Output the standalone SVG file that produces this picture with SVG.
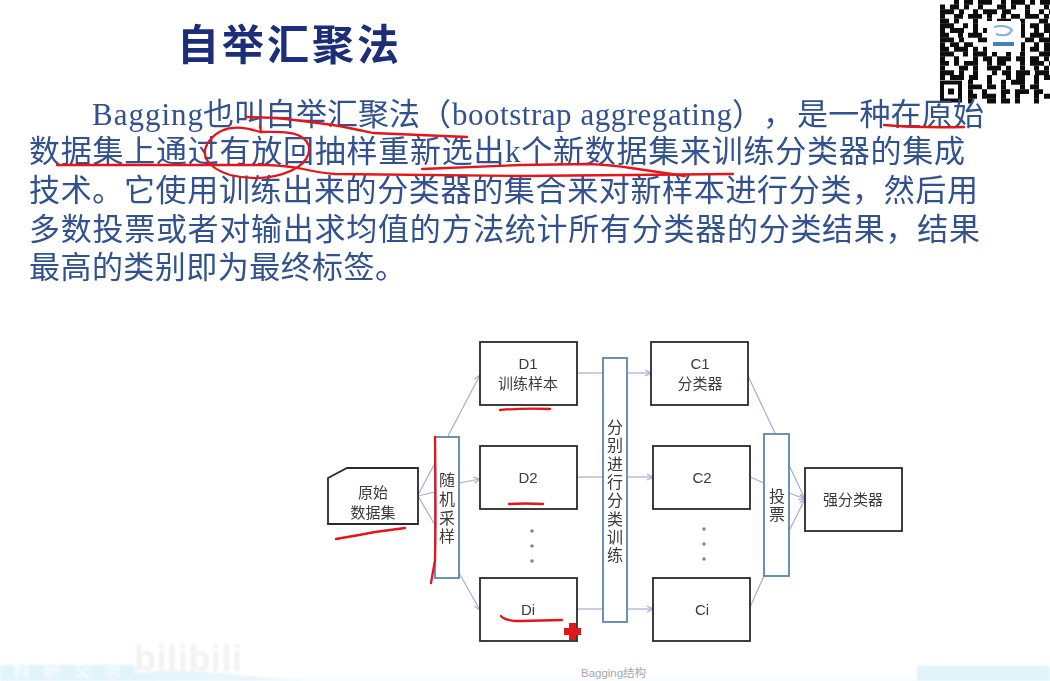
<svg xmlns="http://www.w3.org/2000/svg" width="1050" height="681" viewBox="0 0 1050 681">
<defs>
<filter id="soft" x="-5%" y="-5%" width="110%" height="110%"><feGaussianBlur stdDeviation="0.55"/></filter>
<filter id="soft2" x="-20%" y="-20%" width="140%" height="140%"><feGaussianBlur stdDeviation="1"/></filter>
<marker id="arr" viewBox="0 0 8 8" refX="7" refY="4" markerWidth="8" markerHeight="8" orient="auto" markerUnits="userSpaceOnUse"><path d="M1 1L7 4L1 7" fill="none" stroke="#a3aed2" stroke-width="1.2"/></marker>
<linearGradient id="bandL" x1="0" x2="1" y1="0" y2="0"><stop offset="0" stop-color="#dff4fc"/><stop offset="1" stop-color="#f4fbfe"/></linearGradient>
</defs>
<style>
text{font-family:"Liberation Serif","Noto Sans CJK SC",serif}
.body{font-size:31px;fill:#30518f}
.title{font-family:"Noto Sans CJK SC",sans-serif;font-size:42px;font-weight:700;fill:#1b2f78}
.lbl{font-family:"Liberation Sans","Noto Sans CJK SC",sans-serif;font-size:15px;fill:#3a3a3a;text-anchor:middle}
.bar-t{font-family:"Noto Sans CJK SC",sans-serif;font-size:16px;fill:#3a3a3a;writing-mode:vertical-rl}
.box{fill:#fff;stroke:#2a2a2a;stroke-width:1.8}
.bar{fill:#fff;stroke:#5f84ab;stroke-width:1.8}
.conn{fill:none;stroke:#a3aed2;stroke-width:1.2}
.red{fill:none;stroke:#e3141c;stroke-width:2.3;stroke-linecap:round;stroke-linejoin:round}
.qr{fill:none;stroke:#111;stroke-width:4.9}
.dot{fill:#888}
</style>
<rect width="1050" height="681" fill="#fff"/>
<g id="bottom-band" filter="url(#soft2)">
<path d="M0 665H135V681H0z" fill="#e0f4fc"/>
<path d="M135 673Q190 668 240 675Q300 681 400 681H135z" fill="url(#bandL)"/>
<path d="M917 666H1050V681H917z" fill="#e0f4fc"/>
<path d="M300 679H917V681H300z" fill="#f2fafd"/>
<text x="13" y="676" font-size="17" fill="#fff" textLength="108" style="font-family:'Noto Sans CJK SC',sans-serif">科研交流</text>
<text x="134" y="671" font-size="36" fill="#f2f2f2" textLength="108" style="font-family:'Liberation Sans',sans-serif;font-weight:700">bilibili</text>
</g>
<g id="qr-code" filter="url(#soft)">
<g class="qr">
<path stroke-dasharray="0 14 5 5 9 5 14 9 5 5 14 5 5 5 14" d="M940 2.3H1050"/>
<path stroke-dasharray="5 5 9 5 5 9 5 14 9 5 5 9 5 14" d="M940 7H1050"/>
<path stroke-dasharray="14 5 5 9 5 5 14 5 9 14 5 9 5 5" d="M940 11.7H1050"/>
<path stroke-dasharray="5 9 9 5 14 5 5 9 5 5 9 5 14 5" d="M940 16.4H1050"/>
<path stroke-dasharray="9 5 5 14 5 9 5 5 14 9 5 14" d="M940 21.1H1050"/>
<path stroke-dasharray="14 9 5 5 5 9 9 5 5 14 5 5 9 5" d="M940 25.8H1050"/>
<path stroke-dasharray="5 5 14 9 5 5 9 14 5 9 5 9" d="M940 30.5H1050"/>
<path stroke-dasharray="9 9 5 5 14 5 5 9 14 5 5 5 14 5" d="M940 35.2H1050"/>
<path stroke-dasharray="14 5 5 14 9 5 5 5 9 14 9 5" d="M940 39.9H1050"/>
<path stroke-dasharray="5 5 9 5 9 14 5 9 5 5 14 9" d="M940 44.6H1050"/>
<path stroke-dasharray="9 5 14 5 5 5 9 9 5 14 5 5 9 5" d="M940 49.3H1050"/>
<path stroke-dasharray="14 9 5 5 14 5 5 9 5 9 5 14" d="M940 54H1050"/>
<path stroke-dasharray="5 9 5 14 5 5 9 5 14 5 9 5 9 5" d="M940 58.7H1050"/>
<path stroke-dasharray="9 5 5 5 14 9 5 5 9 14 5 5 14 5" d="M940 63.4H1050"/>
<path stroke-dasharray="5 14 9 5 5 9 14 5 5 9 5 9 5 5" d="M940 68.1H1050"/>
<path stroke-dasharray="14 5 5 9 5 14 5 5 9 5 14 5" d="M940 72.8H1050"/>
<path stroke-dasharray="5 5 14 5 9 9 5 14 5 5 9 9" d="M940 77.5H1050"/>
<path stroke-dasharray="0 28 5 14 5 9 5 5 14 9 5 14" d="M940 82.2H1050"/>
<path stroke-dasharray="0 28 14 5 9 5 5 14 5 5 9 5" d="M940 86.9H1050"/>
<path stroke-dasharray="0 28 5 9 5 14 9 5 14 5 9 5" d="M940 91.6H1050"/>
<path stroke-dasharray="0 28 9 5 14 5 5 9 5 14 5 5 9 5" d="M940 96.3H1050"/>
<path stroke-dasharray="0 28 5 14 9 5 9 5 5 14 5 9" d="M940 101H1050"/>
</g>
<rect x="942" y="82.5" width="18" height="18" fill="#fff" stroke="#111" stroke-width="4"/>
<rect x="948" y="88.5" width="6" height="6" fill="#111"/>
<rect x="987" y="21" width="34" height="31" fill="#fff"/>
<path d="M994 27Q1006 24 1012 30Q1008 38 996 34" fill="none" stroke="#7fb2d6" stroke-width="2"/>
<rect x="993" y="42" width="21" height="4" fill="#4a7fb8"/>
</g>
<g id="text-block" filter="url(#soft)">
<text class="title" x="177" y="60" textLength="222">自举汇聚法</text>
<text class="body" x="92" y="125" textLength="111">Bagging</text>
<text class="body" x="203" y="125" textLength="248">也叫自举汇聚法（</text>
<text class="body" x="452" y="125" textLength="280">bootstrap aggregating</text>
<text class="body" x="732" y="125" textLength="62">），</text>
<text class="body" x="797" y="125" textLength="187">是一种在原始</text>
<text class="body" x="29" y="162" textLength="936">数据集上通过有放回抽样重新选出k个新数据集来训练分类器的集成</text>
<text class="body" x="29" y="201" textLength="949">技术。它使用训练出来的分类器的集合来对新样本进行分类，然后用</text>
<text class="body" x="29" y="240" textLength="951">多数投票或者对输出求均值的方法统计所有分类器的分类结果，结果</text>
<text class="body" x="29" y="278" textLength="377">最高的类别即为最终标签。</text>
</g>
<g id="connectors" filter="url(#soft)">
<path class="conn" d="M418 495L435 463"/>
<path class="conn" d="M448 436L480 375" marker-end="url(#arr)"/>
<path class="conn" d="M418 496L435 492"/>
<path class="conn" d="M459 483L480 479" marker-end="url(#arr)"/>
<path class="conn" d="M418 496L435 525"/>
<path class="conn" d="M459 573L480 610" marker-end="url(#arr)"/>
<path class="conn" d="M577 373H603"/>
<path class="conn" d="M577 477H603"/>
<path class="conn" d="M577 609H603"/>
<path class="conn" d="M627 373H651" marker-end="url(#arr)"/>
<path class="conn" d="M627 477H653" marker-end="url(#arr)"/>
<path class="conn" d="M627 609H653" marker-end="url(#arr)"/>
<path class="conn" d="M748 376L775 433"/>
<path class="conn" d="M750 477L764 483"/>
<path class="conn" d="M750 607L764 576"/>
<path class="conn" d="M789 465L805 499" marker-end="url(#arr)"/>
<path class="conn" d="M789 493L805 499" marker-end="url(#arr)"/>
<path class="conn" d="M789 531L805 499" marker-end="url(#arr)"/>
</g>
<g id="nodes" filter="url(#soft)">
<g id="source"><path class="box" d="M328 478L347 468H418V524H328z"/><text class="lbl" x="373" y="498">原始</text><text class="lbl" x="373" y="518">数据集</text></g>
<g id="sampling"><rect class="bar" x="435" y="437" width="24" height="141"/><text class="bar-t" x="447" y="472" letter-spacing="2.8">随机采样</text></g>
<g id="d1"><rect class="box" x="480" y="342" width="97" height="63"/><text class="lbl" x="528" y="369">D1</text><text class="lbl" x="528" y="389">训练样本</text></g>
<g id="d2"><rect class="box" x="480" y="446" width="97" height="63"/><text class="lbl" x="528" y="483">D2</text></g>
<g id="di"><rect class="box" x="480" y="578" width="97" height="63"/><text class="lbl" x="528" y="615">Di</text></g>
<g id="d-dots"><circle class="dot" cx="532" cy="531" r="1.8"/><circle class="dot" cx="532" cy="546" r="1.8"/><circle class="dot" cx="532" cy="561" r="1.8"/></g>
<g id="training"><rect class="bar" x="603" y="358" width="24" height="264"/><text class="bar-t" x="615" y="419" letter-spacing="2.3">分别进行分类训练</text></g>
<g id="c1"><rect class="box" x="651" y="342" width="97" height="63"/><text class="lbl" x="700" y="369">C1</text><text class="lbl" x="700" y="389">分类器</text></g>
<g id="c2"><rect class="box" x="653" y="446" width="97" height="63"/><text class="lbl" x="702" y="483">C2</text></g>
<g id="ci"><rect class="box" x="653" y="578" width="97" height="63"/><text class="lbl" x="702" y="615">Ci</text></g>
<g id="c-dots"><circle class="dot" cx="704" cy="529" r="1.8"/><circle class="dot" cx="704" cy="544" r="1.8"/><circle class="dot" cx="704" cy="559" r="1.8"/></g>
<g id="vote"><rect class="bar" x="764" y="434" width="25" height="142"/><text class="bar-t" x="777" y="488" letter-spacing="2">投票</text></g>
<g id="strong"><rect class="box" x="805" y="468" width="97" height="63"/><text class="lbl" x="853" y="505">强分类器</text></g>
</g>
<text x="581" y="677" style="font-family:'Liberation Sans','Noto Sans CJK SC',sans-serif" font-size="11.5" fill="#a8a8a8" textLength="65">Bagging结构</text>
<g id="annotations" filter="url(#soft)">
<path class="red" d="M247 117L277 118Q305 121 333 125Q350 128 373 133L467 137"/>
<path class="red" d="M260 126L261 132"/>
<path class="red" d="M260 132C240 125 222 125 210 140C198 155 208 168 230 175C255 181 280 178 298 167C312 157 313 143 300 136C290 131 275 132 260 132"/>
<path class="red" d="M57 165H267Q290 166 303 169Q320 173 335 174L520 176L733 174"/>
<path class="red" d="M422 169L520 165L588 164Q612 165 631 168L685 176"/>
<path class="red" d="M884 125Q920 128 964 127"/>
<path class="red" d="M336 539Q360 535 375 532L405 528"/>
<path class="red" d="M435 437Q436 520 435 560L431 583"/>
<path class="red" d="M500 410Q525 408 550 409"/>
<path class="red" d="M509 504Q525 503 543 504"/>
<path class="red" d="M501 616Q505 621 520 621L562 620"/>
<path d="M569 623H576V628H581V635H576V640H569V635H564V628H569z" fill="#e3141c"/>
</g>
</svg>
